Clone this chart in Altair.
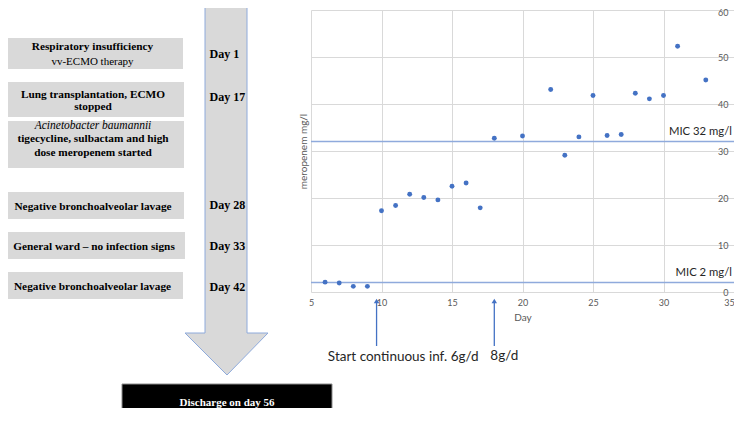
import altair as alt
import pandas as pd

# ---------------- data ----------------
days = [6, 7, 8, 9, 10, 11, 12, 13, 14, 15, 16, 17, 18, 20, 22, 23, 24, 25, 26, 27, 28, 29, 30, 31, 33]
meropenem = [2.1, 1.9, 1.2, 1.2, 17.3, 18.4, 20.8, 20.1, 19.6, 22.5, 23.2, 17.9,
             32.7, 33.2, 43.1, 29.1, 33.0, 41.8, 33.3, 33.5, 42.3, 41.1, 41.8, 52.3, 45.1]
mic_values = [32, 2]
mic_labels = ["MIC 32 mg/l", "MIC 2 mg/l"]
dose_days = [9.65, 18.0]
dose_labels = ["Start continuous inf. 6g/d", "8g/d"]
x_ticks = [5, 10, 15, 20, 25, 30, 35]
y_ticks = [0, 10, 20, 30, 40, 50, 60]

timeline_days = ["Day 1", "Day 17", "Day 28", "Day 33", "Day 42"]
event_lines = ["Respiratory insufficiency", "vv-ECMO therapy",
               "Lung transplantation, ECMO", "stopped",
               "Acinetobacter baumannii", "tigecycline, sulbactam and high", "dose meropenem started",
               "Negative bronchoalveolar lavage",
               "General ward \u2013 no infection signs",
               "Negative bronchoalveolar lavage"]
event_styles = ["bold", "normal", "bold", "bold", "italic", "bold", "bold", "bold", "bold", "bold"]
discharge_label = "Discharge on day 56"

# ---------------- layout (image pixels) ----------------
PLOT_LEFT, PLOT_TOP, PLOT_W, PLOT_H = 311, 10, 423, 282
event_line_box = [0, 0, 1, 1, 2, 2, 2, 3, 4, 5]
event_line_y = [47.3, 61.7, 95.0, 107.3, 126.2, 139.3, 152.5, 206.7, 246.7, 287.3]
box_rects = [(2, 38, 183, 69), (2, 82, 184, 117), (2, 121, 184, 168),
             (2, 192, 184, 219), (3, 232, 185, 259), (2, 272, 183, 299)]
day_label_x = 209.5
day_label_y = [54, 97.3, 205, 245.7, 287.3]
discharge_rect = (122, 384, 332, 419)
arrow_anchor = (227, 0)
arrow_path = "M-22,0 L20,0 L20,333 L41,333 L0,375 L-42,333 L-22,333 Z"


def px(x):
    return x - PLOT_LEFT


def py(y):
    return y - PLOT_TOP


df_points = pd.DataFrame({"day": days, "conc": meropenem})
df_mic = pd.DataFrame({"mic": mic_values, "label": mic_labels})
df_dose = pd.DataFrame({"day": dose_days, "label": dose_labels})

df_boxes = pd.DataFrame({
    "x": [px(b[0]) for b in box_rects], "x2": [px(b[2]) for b in box_rects],
    "y": [py(b[1]) for b in box_rects], "y2": [py(b[3]) for b in box_rects],
})
df_lines = pd.DataFrame({
    "text": event_lines,
    "style": event_styles,
    "x": [px((box_rects[i][0] + box_rects[i][2]) / 2) for i in event_line_box],
    "y": [py(v) for v in event_line_y],
})
df_days = pd.DataFrame({"text": timeline_days, "x": [px(day_label_x)] * len(timeline_days),
                        "y": [py(v) for v in day_label_y]})
df_discharge = pd.DataFrame({
    "x": [px(discharge_rect[0])], "x2": [px(discharge_rect[2])],
    "y": [py(discharge_rect[1])], "y2": [py(discharge_rect[3])],
    "cx": [px((discharge_rect[0] + discharge_rect[2]) / 2)],
    "cy": [py(403)], "text": [discharge_label],
})
df_arrow = pd.DataFrame({"x": [px(arrow_anchor[0])], "y": [py(arrow_anchor[1])]})

X_ID = alt.X("x:Q", scale=None, axis=None)
Y_ID = alt.Y("y:Q", scale=None, axis=None)

SERIF = "Liberation Serif"
SANS = "Lato"

# ---------------- diagram ----------------
big_arrow = alt.Chart(df_arrow).mark_point(
    shape=arrow_path, size=4, filled=True, fill="#d9d9d9", stroke="#8eaadb",
    strokeWidth=1, opacity=1
).encode(x=X_ID, y=Y_ID)

boxes = alt.Chart(df_boxes).mark_rect(fill="#d9d9d9").encode(
    x=X_ID, x2="x2:Q", y=Y_ID, y2="y2:Q")


def line_layer(style, weight, fstyle, size):
    return alt.Chart(df_lines).transform_filter(alt.datum.style == style).mark_text(
        font=SERIF, fontWeight=weight, fontStyle=fstyle, fontSize=size,
        color="black", align="center", baseline="middle"
    ).encode(x=X_ID, y=Y_ID, text="text:N")


bold_lines = line_layer("bold", "bold", "normal", 11.3)
normal_lines = line_layer("normal", "normal", "normal", 11)
italic_lines = line_layer("italic", "normal", "italic", 11.5)

day_texts = alt.Chart(df_days).mark_text(
    font=SERIF, fontWeight="bold", fontSize=12, color="black", align="left", baseline="middle"
).encode(x=X_ID, y=Y_ID, text="text:N")

discharge_box = alt.Chart(df_discharge).mark_rect(fill="black", stroke="#8c8c8c", strokeWidth=1).encode(
    x=X_ID, x2="x2:Q", y=Y_ID, y2="y2:Q")
discharge_text = alt.Chart(df_discharge).mark_text(
    font=SERIF, fontWeight="bold", fontSize=11, color="white", align="center", baseline="middle"
).encode(x=alt.X("cx:Q", scale=None, axis=None), y=alt.Y("cy:Q", scale=None, axis=None), text="text:N")

# ---------------- scatter ----------------
x_scale = alt.Scale(domain=[5, 35], nice=False, zero=False)
y_scale = alt.Scale(domain=[0, 60], nice=False, zero=False)
x_axis = alt.Axis(values=x_ticks, title="Day", grid=True, domain=False, ticks=False,
                  tickSize=0, labelPadding=6, titlePadding=5, labelFlush=False,
                  labelOffset={"expr": "datum.value == 35 ? -5 : 0"})

points = alt.Chart(df_points).mark_circle(size=24, color="#4472c4", opacity=1).encode(
    x=alt.X("day:Q", scale=x_scale, axis=x_axis),
    y=alt.Y("conc:Q", scale=y_scale,
            axis=alt.Axis(orient="right", values=y_ticks, title=None, grid=True, domain=False,
                          ticks=False, tickSize=0, labelAlign="right", labelPadding=-6,
                          labelFlush=False, labelBaseline="middle",
                          labelOffset={"expr": "datum.value == 60 ? 2 : 0"})),
)

mic_rules = alt.Chart(df_mic).mark_rule(color="#8faadc", strokeWidth=1.5).encode(
    y=alt.Y("mic:Q", scale=y_scale,
            axis=alt.Axis(orient="left", title="meropenem mg/l", labels=False, ticks=False,
                          tickSize=0, domain=False, grid=False, titlePadding=3)),
)
mic_text = alt.Chart(df_mic).mark_text(
    font=SANS, fontSize=11.3, color="#262626", align="right", baseline="middle", dx=-2, dy=-10
).encode(x=alt.X(datum=35, scale=x_scale, axis=x_axis),
         y=alt.Y("mic:Q", scale=y_scale, axis=None), text="label:N")

dose_rules = alt.Chart(df_dose).mark_rule(color="#4472c4", strokeWidth=1.3).encode(
    x=alt.X("day:Q", scale=x_scale, axis=x_axis), y=alt.value(py(302)), y2=alt.value(py(346)))
dose_heads = alt.Chart(df_dose).mark_point(shape="triangle-up", filled=True, size=30,
                                           color="#4472c4", opacity=1).encode(
    x=alt.X("day:Q", scale=x_scale, axis=x_axis), y=alt.value(py(301)))
dose_text1 = alt.Chart(df_dose.iloc[[0]]).mark_text(
    font=SANS, fontSize=13.5, color="#262626", align="left", baseline="middle", dx=-48.7
).encode(x=alt.X("day:Q", scale=x_scale, axis=x_axis), y=alt.value(py(357)), text="label:N")
dose_text2 = alt.Chart(df_dose.iloc[[1]]).mark_text(
    font=SANS, fontSize=13.5, color="#262626", align="left", baseline="middle", dx=-4
).encode(x=alt.X("day:Q", scale=x_scale, axis=x_axis), y=alt.value(py(356)), text="label:N")

chart = alt.layer(
    big_arrow, boxes, bold_lines, normal_lines, italic_lines, day_texts,
    discharge_box, discharge_text,
    mic_rules, points, mic_text, dose_rules, dose_heads, dose_text1, dose_text2,
).properties(
    width=PLOT_W, height=PLOT_H,
    padding={"left": PLOT_LEFT - 8, "top": PLOT_TOP - 8, "right": 0, "bottom": 116},
    autosize=alt.AutoSizeParams(type="none"),
).configure_view(stroke=None).configure_axis(
    labelFont=SANS, titleFont=SANS, labelColor="#595959", titleColor="#595959",
    labelFontSize=9, titleFontSize=10, titleFontWeight="normal", gridColor="#d9d9d9",
    gridWidth=1,
)

chart.save("out.html", embed_options={"renderer": "svg", "actions": False})
